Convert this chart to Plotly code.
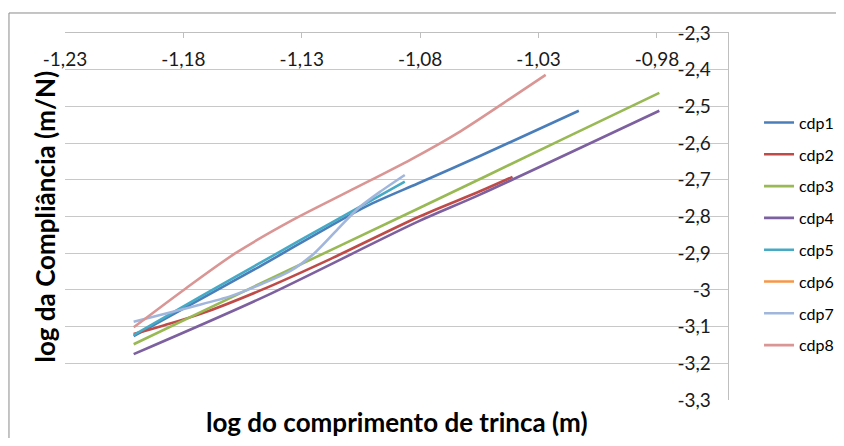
import plotly.graph_objects as go

# ---- data ----
series_names = ["cdp1", "cdp2", "cdp3", "cdp4", "cdp5", "cdp6", "cdp7", "cdp8"]

cdp1_x = [-1.201, -1.148, -1.103, -1.081, -1.055, -1.013]
cdp1_y = [-3.126, -2.937, -2.773, -2.710, -2.636, -2.512]

cdp2_x = [-1.201, -1.188, -1.173, -1.147, -1.118, -1.081, -1.055, -1.041]
cdp2_y = [-3.120, -3.096, -3.066, -3.000, -2.916, -2.802, -2.732, -2.692]

cdp3_x = [-1.201, -1.147, -1.081, -1.020, -0.979]
cdp3_y = [-3.148, -2.981, -2.779, -2.590, -2.463]

cdp4_x = [-1.201, -1.146, -1.081, -1.055, -0.979]
cdp4_y = [-3.175, -3.019, -2.814, -2.741, -2.512]

cdp5_x = [-1.201, -1.173, -1.145, -1.117, -1.0865]
cdp5_y = [-3.123, -3.019, -2.917, -2.815, -2.705]

cdp6_x = [None]   # series listed in the legend, no visible points
cdp6_y = [None]

cdp7_x = [-1.201, -1.177, -1.160, -1.147, -1.135, -1.125, -1.114, -1.106, -1.097, -1.0865]
cdp7_y = [-3.087, -3.047, -3.017, -2.984, -2.949, -2.902, -2.829, -2.777, -2.733, -2.687]

cdp8_x = [-1.201, -1.179, -1.158, -1.134, -1.110, -1.084, -1.063, -1.042, -1.027]
cdp8_y = [-3.102, -2.996, -2.900, -2.810, -2.731, -2.645, -2.568, -2.479, -2.414]

x_tickvals = [-1.23, -1.18, -1.13, -1.08, -1.03, -0.98]
x_ticktext = ["-1,23", "-1,18", "-1,13", "-1,08", "-1,03", "-0,98"]
y_tickvals = [-2.3, -2.4, -2.5, -2.6, -2.7, -2.8, -2.9, -3.0, -3.1, -3.2, -3.3]
y_ticktext = ["-2,3", "-2,4", "-2,5", "-2,6", "-2,7", "-2,8", "-2,9", "-3", "-3,1", "-3,2", "-3,3"]

x_title = "log do comprimento de trinca (m)"
y_title = "log da Compliância (m/N)"

colors = ["#4A7EBB", "#BE4B48", "#98B954", "#7D60A0", "#46AAC5", "#F79646", "#A0B6DC", "#D99694"]

xs = [cdp1_x, cdp2_x, cdp3_x, cdp4_x, cdp5_x, cdp6_x, cdp7_x, cdp8_x]
ys = [cdp1_y, cdp2_y, cdp3_y, cdp4_y, cdp5_y, cdp6_y, cdp7_y, cdp8_y]

FONT = "Lato"

fig = go.Figure()
for name, x, y, c in zip(series_names, xs, ys, colors):
    fig.add_trace(go.Scatter(
        x=x, y=y, name=name, mode="lines",
        line=dict(color=c, width=2.6, shape="spline", smoothing=0.8),
        legendgroup=name,
    ))

# the page body has an 8px default margin: size the figure so the page does not overflow
fig.update_layout(
    width=828, height=430,
    margin=dict(l=57, r=108, t=25, b=38, autoexpand=False),
    paper_bgcolor="white", plot_bgcolor="white",
    font=dict(family=FONT, size=16, color="#000000"),
    showlegend=True,
    legend=dict(
        x=1.0468, y=0.452, xanchor="left", yanchor="middle",
        font=dict(family=FONT, size=16, color="#000000"),
        tracegroupgap=8, itemwidth=30,
        bgcolor="rgba(0,0,0,0)",
    ),
    xaxis=dict(
        range=[-1.23, -0.95], side="top",
        tickvals=x_tickvals, ticktext=x_ticktext,
        ticks="inside", ticklen=5, tickcolor="#BFBFBF",
        ticklabelposition="inside", ticklabelstandoff=16,
        ticklabeloverflow="allow",
        showline=True, linecolor="#BFBFBF", linewidth=1,
        showgrid=False, zeroline=False,
        tickfont=dict(family=FONT, size=19, color="#1a1a1a"),
    ),
    yaxis=dict(
        range=[-3.3, -2.3], side="right",
        tickvals=y_tickvals, ticktext=y_ticktext,
        ticks="inside", ticklen=18, tickcolor="rgba(0,0,0,0)",
        ticklabelposition="inside",
        ticklabeloverflow="allow",
        showline=True, linecolor="#BFBFBF", linewidth=1,
        showgrid=True, gridcolor="#C8C8C8", gridwidth=1.3,
        zeroline=False,
        tickfont=dict(family=FONT, size=19, color="#1a1a1a"),
    ),
    annotations=[
        dict(text="<b>" + y_title + "</b>", xref="paper", yref="paper",
             x=-0.0302, y=0.5, xanchor="center", yanchor="middle",
             textangle=-90, showarrow=False,
             font=dict(family=FONT, size=26, color="#000000")),
        dict(text="<b>" + x_title + "</b>", xref="paper", yref="paper",
             x=0.5, y=-0.06, xanchor="center", yanchor="middle",
             showarrow=False,
             font=dict(family=FONT, size=26, color="#000000")),
    ],
    shapes=[
        dict(type="rect", xref="paper", yref="paper",
             x0=-0.0845, y0=-1.0, x1=2.0, y1=1.0545,
             line=dict(color="#8A8A8A", width=1), fillcolor="rgba(0,0,0,0)",
             layer="below"),
    ],
)

fig.write_html("out.html")
